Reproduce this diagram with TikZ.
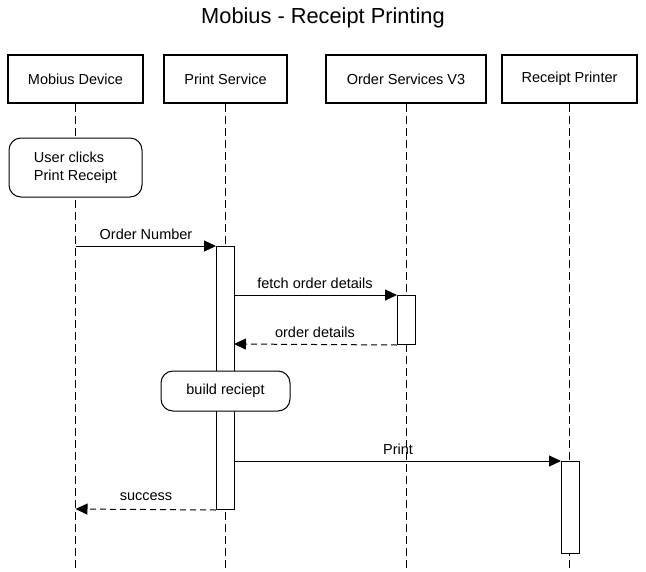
\documentclass[tikz,border=0pt]{standalone}
\usepackage{fontspec}
\setmainfont{Liberation Sans}
\usetikzlibrary{arrows.meta}
\begin{document}
\begin{tikzpicture}[x=1pt,y=-1pt,
  lbl/.style={font=\fontsize{14.5}{17}\selectfont, inner sep=0pt},
  actor/.style={draw, line width=2pt, fill=white, minimum width=#1, minimum height=48pt, inner sep=0pt, font=\fontsize{14.5}{17}\selectfont},
  life/.style={line width=1pt, dash pattern=on 8pt off 4pt},
  notebox/.style={draw, line width=1pt, fill=white, rounded corners=12pt, inner sep=0pt, font=\fontsize{14.5}{17.5}\selectfont},
  actbar/.style={draw, line width=1pt, fill=white, minimum width=18pt, minimum height=#1, inner sep=0pt, anchor=north west},
  msg/.style={line width=1pt, -{Triangle[length=12pt,width=11pt]}},
  ret/.style={msg, dash pattern=on 6pt off 4pt}
]
\useasboundingbox (0,0) rectangle (646,571);
\node[lbl, font=\fontsize{21.8}{26}\selectfont] (title) at (323,18) {Mobius - Receipt Printing};

% actors
\node[actor=135pt] (md) at (75.5,79) {Mobius Device};
\node[actor=123pt] (psv) at (225.5,79) {Print Service};
\node[actor=160pt] (osv) at (406,79) {Order Services V3};
\node[actor=135pt] (rpr) at (569.5,79) {Receipt Printer};

% lifeline ends
\coordinate (mdE) at (md.south |- 0,571);
\coordinate (psE) at (psv.south |- 0,571);
\coordinate (osE) at (osv.south |- 0,571);
\coordinate (rpE) at (rpr.south |- 0,571);
\draw[life] (md.south) -- (mdE);
\draw[life] (psv.south) -- (psE);
\draw[life] (osv.south) -- (osE);
\draw[life] (rpr.south) -- (rpE);

% notes
\node[notebox, minimum width=133pt, minimum height=59pt, align=left] (n1) at (75.5,167.5) {User clicks\\Print Receipt};

% activation bars
\node[actbar=263pt] (ps) at (216,246) {};
\node[actbar=49pt] (os) at (397,295) {};
\node[actbar=92pt] (rp) at (561,461) {};

\node[notebox, minimum width=129pt, minimum height=40pt] (n2) at (225.5,391) {build reciept};

% messages
\coordinate (m1) at (md.south |- 0,246);
\draw[msg] (m1) -- (ps.north west);
\node[lbl] (l1) at (146,234) {Order Number};

\coordinate (m2) at (234,295);
\draw[msg] (m2) -- (os.north west);
\node[lbl] (l2) at (315,283) {fetch order details};

\coordinate (m3) at (234,344);
\draw[ret] (os.south west) -- (m3);
\node[lbl] (l3) at (315,332) {order details};

\coordinate (m4) at (234,461);
\draw[msg] (m4) -- (rp.north west);
\node[lbl] (l4) at (398,449) {Print};

\coordinate (m5) at (md.south |- 0,509);
\draw[ret] (ps.south west) -- (m5);
\node[lbl] (l5) at (146,497) {success};
\end{tikzpicture}
\end{document}
